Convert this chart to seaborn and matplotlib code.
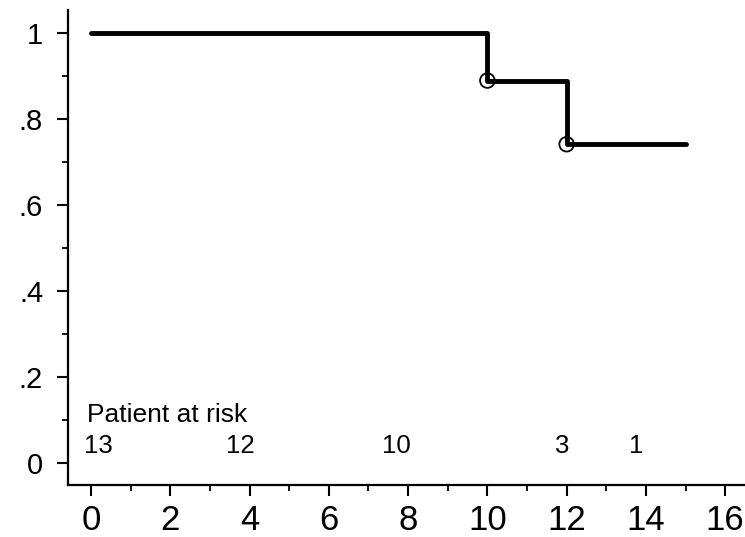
import matplotlib
matplotlib.use("Agg")
import matplotlib.pyplot as plt
import seaborn as sns
import pandas as pd
from matplotlib.ticker import MultipleLocator

# Kaplan-Meier survival estimate (step function)
times = [0, 10, 12, 15]
survival = [1.0, 0.889, 0.741, 0.741]

# Censored observations
censor_times = [10, 12]
censor_surv = [0.889, 0.741]

# Number of patients at risk
risk_label = "Patient at risk"
risk_x = [0.19, 3.76, 7.70, 11.9, 13.76]
risk_n = [13, 12, 10, 3, 1]

y_ticks = [0, 0.2, 0.4, 0.6, 0.8, 1.0]
y_tick_labels = ["0", ".2", ".4", ".6", ".8", "1"]
x_ticks = [0, 2, 4, 6, 8, 10, 12, 14, 16]

sns.set_theme(style="ticks")
plt.rcParams["font.family"] = ["Liberation Sans", "DejaVu Sans"]

fig = plt.figure(figsize=(7.45, 5.37), dpi=100)
ax = fig.add_axes([68 / 745, 1 - 485 / 537, 1 - 68 / 745, (485 - 10) / 537])

km = pd.DataFrame({"time": times, "survival": survival})
sns.lineplot(data=km, x="time", y="survival", drawstyle="steps-post",
             color="black", linewidth=3.5, ax=ax)

cens = pd.DataFrame({"time": censor_times, "survival": censor_surv})
sns.scatterplot(data=cens, x="time", y="survival", ax=ax, s=110,
                facecolor="none", edgecolor="black", linewidth=1.3,
                marker="o", zorder=3)

ax.text(-0.1, 0.095, risk_label, fontsize=19, color="black",
        ha="left", va="baseline")
for xr, n in zip(risk_x, risk_n):
    ax.text(xr, 0.023, str(n), fontsize=18.5, color="black",
            ha="center", va="baseline")

ax.set_xlim(-0.58, 16.5)
ax.set_ylim(-0.051, 1.053)
ax.set_xticks(x_ticks)
ax.set_xticklabels([str(t) for t in x_ticks], fontsize=25)
ax.set_yticks(y_ticks)
ax.set_yticklabels(y_tick_labels, fontsize=21)
ax.xaxis.set_minor_locator(MultipleLocator(1))
ax.yaxis.set_minor_locator(MultipleLocator(0.1))

ax.tick_params(axis="both", which="major", length=8, width=1.5,
               color="black", labelcolor="black")
ax.tick_params(axis="both", which="minor", length=4.5, width=1.3,
               color="black")
ax.tick_params(axis="y", which="major", pad=10)
ax.tick_params(axis="x", which="major", pad=6)

ax.set_xlabel("")
ax.set_ylabel("")
sns.despine(ax=ax, top=True, right=True)
for side in ("left", "bottom"):
    ax.spines[side].set_linewidth(1.6)
    ax.spines[side].set_color("black")

fig.savefig("out.png", dpi=100, facecolor="white")
